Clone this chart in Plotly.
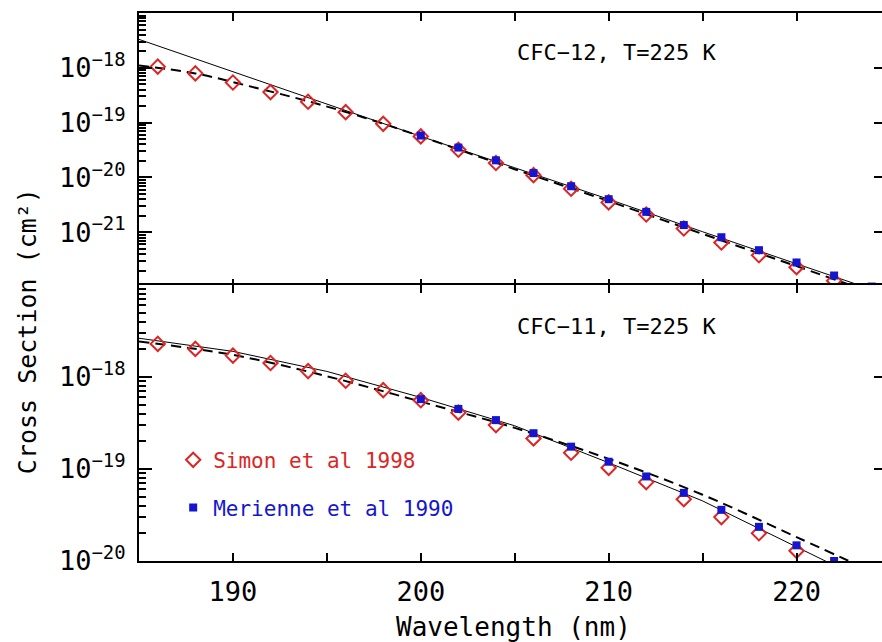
import plotly.graph_objects as go

# ---------------- data ----------------
wl_simon = [186, 188, 190, 192, 194, 196, 198, 200, 202, 204, 206, 208, 210, 212, 214, 216, 218, 220, 222]
wl_mer = [200, 202, 204, 206, 208, 210, 212, 214, 216, 218, 220, 222, 224]
wl_mer11 = [200, 202, 204, 206, 208, 210, 212, 214, 216, 218, 220, 222]

# CFC-12
simon12 = [1.05e-18, 7.9e-19, 5.4e-19, 3.6e-19, 2.4e-19, 1.55e-19, 9.5e-20, 5.6e-20, 3.2e-20, 1.83e-20,
           1.1e-20, 6.2e-21, 3.5e-21, 2.1e-21, 1.17e-21, 6.5e-22, 3.8e-22, 2.3e-22, 1.3e-22]
mer12 = [5.8e-20, 3.5e-20, 2.05e-20, 1.2e-20, 6.9e-21, 4.0e-21, 2.35e-21, 1.35e-21, 8.1e-22, 4.7e-22,
         2.8e-22, 1.62e-22, 1.02e-22]
wl_solid12 = [185, 190, 195, 200, 205, 210, 215, 220, 225]
solid12 = [3.3e-18, 8.5e-19, 2.2e-19, 5.6e-20, 1.5e-20, 4.0e-21, 1.02e-21, 2.7e-22, 6.9e-23]
wl_dash12 = [185, 188, 191, 194, 197, 200, 205, 210, 215, 220, 225]
dash12 = [1.1e-18, 7.9e-19, 4.5e-19, 2.45e-19, 1.23e-19, 5.6e-20, 1.41e-20, 3.7e-21, 9.3e-22, 2.4e-22, 6.0e-23]

# CFC-11
simon11 = [2.29e-18, 2.02e-18, 1.71e-18, 1.42e-18, 1.16e-18, 9.1e-19, 7.2e-19, 5.6e-19, 4.1e-19, 3.0e-19,
           2.15e-19, 1.5e-19, 1.03e-19, 7.2e-20, 4.7e-20, 3.0e-20, 2.0e-20, 1.29e-20, 8.3e-21]
mer11 = [5.75e-19, 4.5e-19, 3.4e-19, 2.45e-19, 1.75e-19, 1.2e-19, 8.3e-20, 5.5e-20, 3.6e-20, 2.35e-20,
         1.48e-20, 1.0e-20]
wl_solid11 = [185, 190, 195, 200, 205, 210, 215, 220, 225]
solid11 = [2.64e-18, 1.9e-18, 1.15e-18, 6.0e-19, 2.95e-19, 1.17e-19, 4.5e-20, 1.45e-20, 4.5e-21]
wl_dash11 = [185, 190, 195, 200, 205, 210, 215, 220, 225]
dash11 = [2.43e-18, 1.74e-18, 1.02e-18, 5.4e-19, 2.8e-19, 1.29e-19, 5.25e-20, 1.82e-20, 6.2e-21]

x_major = [190, 200, 210, 220]
x_labels = ["190", "200", "210", "220"]
x_minor = [195, 205, 215]
top_decades = [1e-21, 1e-20, 1e-19, 1e-18]
top_labels = ["10<sup>−21</sup>", "10<sup>−20</sup>", "10<sup>−19</sup>", "10<sup>−18</sup>"]
bot_decades = [1e-20, 1e-19, 1e-18]
bot_labels = ["10<sup>−20</sup>", "10<sup>−19</sup>", "10<sup>−18</sup>"]

# ---------------- style ----------------
RED = "#dc2626"
BLUE = "#1515d0"
FONT = "DejaVu Sans Mono"
XR = [185, 224.55]
TOP_R = [-22, -17]
BOT_R = [-20, -17]
TOP_DOM = [0.5, 1.0]
BOT_DOM = [0.0, 0.5036]

fig = go.Figure()

def add_panel(xa, ya, wl_s, ys, wl_d, yd, ysim, wlm, ymer, show):
    fig.add_trace(go.Scatter(x=wl_s, y=ys, mode="lines", line=dict(color="black", width=1),
                             xaxis=xa, yaxis=ya, showlegend=False, hoverinfo="skip"))
    fig.add_trace(go.Scatter(x=wl_d, y=yd, mode="lines", line=dict(color="black", width=2, dash="10px,6px", shape="spline"),
                             xaxis=xa, yaxis=ya, showlegend=False, hoverinfo="skip"))
    fig.add_trace(go.Scatter(x=wl_simon, y=ysim, mode="markers", name="Simon et al 1998",
                             marker=dict(symbol="diamond-open", size=11, color=RED, line=dict(width=2, color=RED)),
                             xaxis=xa, yaxis=ya, showlegend=show, legend="legend"))
    fig.add_trace(go.Scatter(x=wlm, y=ymer, mode="markers", name="Merienne et al 1990",
                             marker=dict(symbol="square", size=8, color=BLUE),
                             xaxis=xa, yaxis=ya, showlegend=show, legend="legend2"))

add_panel("x", "y", wl_solid12, solid12, wl_dash12, dash12, simon12, wl_mer, mer12, False)
add_panel("x2", "y2", wl_solid11, solid11, wl_dash11, dash11, simon11, wl_mer11, mer11, True)

# empty traces so overlay axes are drawn
for ya, xa in [("y3", "x"), ("y4", "x2"), ("y5", "x"), ("y6", "x2")]:
    fig.add_trace(go.Scatter(x=[], y=[], xaxis=xa, yaxis=ya, showlegend=False))

axis_common = dict(showgrid=False, zeroline=False, color="black")
xax = dict(range=XR, tickvals=x_major, ticks="inside", ticklen=8, tickwidth=2,
           minor=dict(tickvals=x_minor, ticks="inside", ticklen=8, tickwidth=2, tickcolor="black", showgrid=False),
           showline=True, linewidth=2, linecolor="black", mirror="ticks", **axis_common)

def minor_vals(lo, hi):
    return [m * 10.0 ** e for e in range(lo, hi) for m in range(2, 10)]

fig.update_layout(
    width=882, height=642,
    margin=dict(l=139, r=0, t=13, b=81),
    paper_bgcolor="white", plot_bgcolor="white",
    font=dict(family=FONT, color="black"),
    xaxis=dict(anchor="y", showticklabels=False, **xax),
    xaxis2=dict(anchor="y2", ticktext=x_labels, ticklabelstandoff=6,
                tickfont=dict(size=27, family=FONT), **xax),
    yaxis=dict(domain=TOP_DOM, anchor="x", type="log", range=TOP_R, tickvals=top_decades,
               ticktext=top_labels, ticks="inside", ticklen=13, tickwidth=2, showline=True,
               linewidth=2, linecolor="black", tickfont=dict(size=27, family=FONT),
               ticklabelstandoff=6, **axis_common),
    yaxis2=dict(domain=BOT_DOM, anchor="x2", type="log", range=BOT_R, tickvals=bot_decades,
                ticktext=bot_labels, ticks="inside", ticklen=13, tickwidth=2, showline=True,
                linewidth=2, linecolor="black", tickfont=dict(size=27, family=FONT),
                ticklabelstandoff=6, **axis_common),
    yaxis3=dict(overlaying="y", anchor="x", side="left", type="log", range=TOP_R,
                tickvals=minor_vals(-22, -17), ticks="inside", ticklen=7, tickwidth=1.5,
                showticklabels=False, showline=False, **axis_common),
    yaxis4=dict(overlaying="y2", anchor="x2", side="left", type="log", range=BOT_R,
                tickvals=minor_vals(-20, -17), ticks="inside", ticklen=7, tickwidth=1.5,
                showticklabels=False, showline=False, **axis_common),
    yaxis5=dict(overlaying="y", anchor="x", side="right", type="log", range=TOP_R,
                tickvals=top_decades, ticks="inside", ticklen=8, tickwidth=2,
                showticklabels=False, showline=False, **axis_common),
    yaxis6=dict(overlaying="y2", anchor="x2", side="right", type="log", range=BOT_R,
                tickvals=bot_decades, ticks="inside", ticklen=8, tickwidth=2,
                showticklabels=False, showline=False, **axis_common),
    legend=dict(x=0.046, y=0.184, xanchor="left", yanchor="middle", bgcolor="rgba(0,0,0,0)",
                font=dict(family=FONT, size=21, color=RED), itemwidth=30),
    legend2=dict(x=0.046, y=0.097, xanchor="left", yanchor="middle", bgcolor="rgba(0,0,0,0)",
                 font=dict(family=FONT, size=21, color=BLUE), itemwidth=30),
    showlegend=True,
)

fig.add_annotation(x=205, xref="x", y=0.857, yref="y domain", text="CFC−12, T=225 K",
                   showarrow=False, xanchor="left", yanchor="middle", font=dict(family=FONT, size=22))
fig.add_annotation(x=205, xref="x2", y=0.85, yref="y2 domain", text="CFC−11, T=225 K",
                   showarrow=False, xanchor="left", yanchor="middle", font=dict(family=FONT, size=22))
fig.add_annotation(x=-0.149, xref="paper", y=0.42, yref="paper", text="Cross Section (cm²)",
                   textangle=-90, showarrow=False, xanchor="center", yanchor="middle",
                   font=dict(family=FONT, size=25))
fig.add_annotation(x=0.5047, xref="paper", y=-0.1204, yref="paper", text="Wavelength (nm)",
                   showarrow=False, xanchor="center", yanchor="middle", font=dict(family=FONT, size=26))

fig.write_html("out.html")
